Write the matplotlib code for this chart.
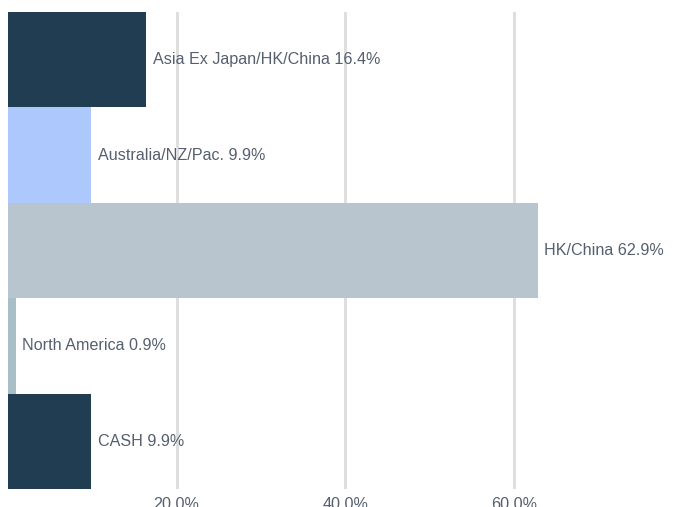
import matplotlib.pyplot as plt

regions = ['Asia Ex Japan/HK/China', 'Australia/NZ/Pac.', 'HK/China', 'North America', 'CASH']
weights = [16.4, 9.9, 62.9, 0.9, 9.9]
colors = ['#213d51', '#adc8fd', '#b8c5ce', '#a8bfc5', '#213d51']
xticks = [20, 40, 60]

plt.rcParams['font.family'] = ['Liberation Sans', 'DejaVu Sans']

fig = plt.figure(figsize=(6.73, 5.07), dpi=100)
W, H = 673, 507
ax = fig.add_axes([8 / W, 18 / H, 665 / W, 477 / H])

y = list(range(len(regions)))
ax.barh(y, weights, height=1.0, color=colors, zorder=2)
for yi, name, w in zip(y, regions, weights):
    ax.annotate(f'{name} {w}%', (w, yi), xytext=(4.5, 0), textcoords='offset points',
                va='center', ha='left', fontsize=11.6, color='#555f6f', zorder=3)

ax.set_ylim(len(regions) - 0.5, -0.5)
ax.set_xlim(0, 665 / 8.43)
ax.set_xticks(xticks)
ax.set_xticklabels([f'{t:.1f}%' for t in xticks], fontsize=11.6, color='#555f6f')
ax.tick_params(axis='x', length=0, pad=6)
ax.set_yticks([])
ax.grid(axis='x', color='#dddddd', linewidth=2, zorder=1)
for s in ax.spines.values():
    s.set_visible(False)

fig.savefig('out.png', dpi=100)
